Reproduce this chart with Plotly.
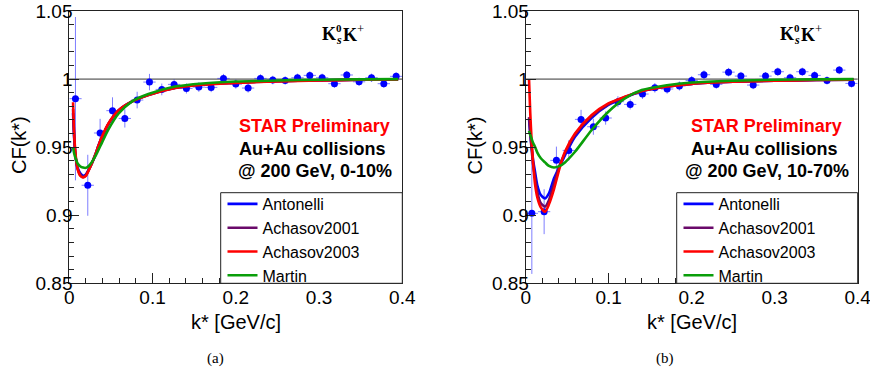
import plotly.graph_objects as go

# ---------------- data ----------------
k_bins = [0.0074, 0.0222, 0.0370, 0.0519, 0.0667, 0.0815, 0.0963, 0.1111, 0.1259,
          0.1407, 0.1556, 0.1704, 0.1852, 0.2000, 0.2148, 0.2296, 0.2444, 0.2593,
          0.2741, 0.2889, 0.3037, 0.3185, 0.3333, 0.3481, 0.3630, 0.3778, 0.3926]
k_halfwidth = 0.0074

cf_central = [0.9856, 0.922, 0.9604, 0.9768, 0.9711, 0.9846, 0.9978, 0.9924, 0.9961,
              0.9931, 0.9941, 0.9939, 1.0005, 0.9963, 0.9934, 1.0005, 0.9993, 0.999,
              1.001, 1.0027, 1.001, 0.9966, 1.003, 0.998, 1.001, 0.9966, 1.002]
err_central = [0.06, 0.0224, 0.0104, 0.0098, 0.0067, 0.0061, 0.006, 0.0043, 0.0037,
               0.0037, 0.0035, 0.0035, 0.0033, 0.0033, 0.0033, 0.0031, 0.0031, 0.0031,
               0.003, 0.003, 0.003, 0.003, 0.003, 0.003, 0.003, 0.003, 0.003]

cf_periph = [0.9014, 0.9026, 0.9403, 0.9476, 0.9704, 0.965, 0.9714, 0.9834, 0.9814,
             0.989, 0.9936, 0.9927, 0.9949, 0.999, 1.0032, 0.9961, 1.0051, 1.0022,
             0.9956, 1.0022, 1.0054, 1.001, 1.0054, 1.0027, 0.999, 1.0066, 0.9968]
err_periph = [0.0445, 0.0165, 0.0101, 0.0075, 0.007, 0.0059, 0.0049, 0.004, 0.0037,
              0.0036, 0.0035, 0.0034, 0.0033, 0.0033, 0.0032, 0.0032, 0.0031, 0.0031,
              0.003, 0.003, 0.003, 0.003, 0.003, 0.003, 0.003, 0.003, 0.003]

models = ["Antonelli", "Achasov2001", "Achasov2003", "Martin"]
model_colors = ["#0000ff", "#6a0a6a", "#ff0000", "#0a9e0a"]

# model curves, 0-10 %
k_fit_central = [0.0045, 0.006, 0.008, 0.010, 0.013, 0.0165, 0.020, 0.023, 0.027, 0.031,
                 0.035, 0.039, 0.047, 0.059, 0.075, 0.095, 0.127, 0.16, 0.20, 0.25,
                 0.30, 0.35, 0.395]
antonelli_central = [0.975, 0.955, 0.941, 0.935, 0.931, 0.929, 0.930, 0.933, 0.938, 0.944,
                     0.951, 0.957, 0.967, 0.9768, 0.9834, 0.9884, 0.9936, 0.996, 0.9974,
                     0.9985, 0.9991, 0.9995, 0.9998]
achasov2001_central = [0.978, 0.956, 0.941, 0.934, 0.930, 0.928, 0.9295, 0.933, 0.938, 0.944,
                       0.951, 0.957, 0.967, 0.9769, 0.9834, 0.9883, 0.9935, 0.9959, 0.9973,
                       0.9984, 0.999, 0.9995, 0.9998]
achasov2003_central = [0.983, 0.958, 0.942, 0.934, 0.929, 0.9278, 0.929, 0.9325, 0.938, 0.944,
                       0.951, 0.9575, 0.9675, 0.977, 0.9834, 0.9883, 0.9935, 0.9958, 0.9972,
                       0.9983, 0.999, 0.9995, 0.9998]
martin_central = [0.950, 0.945, 0.941, 0.938, 0.936, 0.935, 0.9348, 0.936, 0.939, 0.943,
                  0.948, 0.953, 0.963, 0.9745, 0.9835, 0.989, 0.9945, 0.9968, 0.9982,
                  0.999, 0.9995, 0.9998, 1.0]

# model curves, 10-70 %
k_fit_periph = [0.004, 0.0055, 0.0072, 0.009, 0.0112, 0.014, 0.018, 0.0233, 0.028, 0.034,
                0.041, 0.0473, 0.0594, 0.0795, 0.0996, 0.1196, 0.1398, 0.17, 0.20, 0.25,
                0.30, 0.35, 0.395]
antonelli_periph = [0.971, 0.960, 0.950, 0.940, 0.932, 0.922, 0.915, 0.9124, 0.916, 0.927,
                    0.936, 0.944, 0.9576, 0.9716, 0.981, 0.9865, 0.991, 0.9945, 0.9965,
                    0.998, 0.9988, 0.9993, 0.9996]
achasov2001_periph = [0.972, 0.960, 0.948, 0.937, 0.928, 0.917, 0.909, 0.9063, 0.911, 0.923,
                      0.937, 0.9455, 0.959, 0.9726, 0.9815, 0.9868, 0.9911, 0.9945, 0.9965,
                      0.998, 0.9988, 0.9993, 0.9996]
achasov2003_periph = [1.000, 0.975, 0.954, 0.938, 0.923, 0.913, 0.906, 0.9026, 0.908, 0.919,
                      0.935, 0.9466, 0.960, 0.9736, 0.9821, 0.987, 0.9912, 0.9945, 0.9965,
                      0.998, 0.9988, 0.9993, 0.9996]
martin_periph = [0.962, 0.959, 0.956, 0.953, 0.9503, 0.946, 0.942, 0.9388, 0.9362, 0.935,
                 0.9362, 0.9388, 0.9466, 0.9626, 0.976, 0.9858, 0.9919, 0.9955, 0.9975,
                 0.9988, 0.9995, 0.9998, 1.0]

x_ticks = [0, 0.1, 0.2, 0.3, 0.4]
x_ticktext = ["0", "0.1", "0.2", "0.3", "0.4"]
y_ticks = [0.85, 0.9, 0.95, 1.0, 1.05]
y_ticktext = ["0.85", "0.9", "0.95", "1", "1.05"]

panels = [
    dict(xa="x", ya="y", legend="legend", cf=cf_central, err=err_central,
         kfit=k_fit_central,
         curves=[antonelli_central, achasov2001_central, achasov2003_central, martin_central],
         label="@ 200 GeV, 0-10%", caption="(a)"),
    dict(xa="x2", ya="y2", legend="legend2", cf=cf_periph, err=err_periph,
         kfit=k_fit_periph,
         curves=[antonelli_periph, achasov2001_periph, achasov2003_periph, martin_periph],
         label="@ 200 GeV, 10-70%", caption="(b)"),
]

# ---------------- figure ----------------
W, H = 870, 377
SANS = "Liberation Sans, Arial, Helvetica, sans-serif"
SERIF = "Liberation Serif, Times New Roman, serif"

fig = go.Figure()

for p in panels:
    fig.add_trace(go.Scatter(
        x=k_bins, y=p["cf"], mode="markers", xaxis=p["xa"], yaxis=p["ya"],
        marker=dict(color="#0000ff", size=7),
        error_y=dict(type="data", array=p["err"], color="rgba(40,40,255,0.6)",
                     thickness=1, width=0),
        error_x=dict(type="constant", value=k_halfwidth, color="rgba(40,40,255,0.6)",
                     thickness=1, width=0),
        showlegend=False, hoverinfo="x+y"))
    for name, color, vals in zip(models, model_colors, p["curves"]):
        fig.add_trace(go.Scatter(
            x=p["kfit"], y=vals, mode="lines", name=name, xaxis=p["xa"], yaxis=p["ya"],
            line=dict(color=color, width=2.6, shape="spline", smoothing=0.7),
            legend=p["legend"]))

# pixel -> paper helpers
def px(x):
    return x / W

def py(y):
    return 1 - y / H

x_domains = [[px(69.3), px(402.3)], [px(525.7), px(857.7)]]
y_domain = [py(283.3), py(11)]

axis_common = dict(showgrid=False, zeroline=False, showline=True, linecolor="#222",
                   linewidth=1, mirror=True, ticks="inside", tickcolor="#222",
                   ticklen=10, tickwidth=1, automargin=False, ticklabeloverflow="allow",
                   tickfont=dict(family=SANS, size=19, color="black"))

shapes = []
for i, (xa, ya) in enumerate([("xaxis", "yaxis"), ("xaxis2", "yaxis2")]):
    xanchor = "y" if i == 0 else "y2"
    yanchor = "x" if i == 0 else "x2"
    fig.update_layout(**{
        xa: dict(axis_common, domain=x_domains[i], anchor=xanchor, range=[0, 0.4],
                 tickvals=x_ticks, ticktext=x_ticktext, ticklabelstandoff=-3,
                 minor=dict(ticks="inside", ticklen=5, dtick=0.02, tick0=0,
                            tickcolor="#222", tickwidth=1)),
        ya: dict(axis_common, domain=y_domain, anchor=yanchor, range=[0.85, 1.05],
                 tickvals=y_ticks, ticktext=y_ticktext, ticklabelstandoff=-8,
                 minor=dict(ticks="inside", ticklen=5, dtick=0.01, tick0=0.85,
                            tickcolor="#222", tickwidth=1)),
    })
    # reference line at CF = 1
    shapes.append(dict(type="line", xref=("x" if i == 0 else "x2") + " domain",
                       yref="y" if i == 0 else "y2", x0=0, x1=1, y0=1, y1=1,
                       line=dict(color="#333", width=1), layer="below"))
    # legend frame
    shapes.append(dict(type="rect", xref="paper", yref="paper",
                       x0=px(220.7 + (456.0 if i == 1 else 0)), x1=x_domains[i][1],
                       y0=y_domain[0], y1=py(192.7),
                       line=dict(color="#222", width=1), fillcolor="white",
                       layer="above"))

legend_common = dict(bgcolor="rgba(0,0,0,0)", borderwidth=0,
                     font=dict(family=SANS, size=16, color="black"),
                     xanchor="left", yanchor="top", y=py(187),
                     tracegroupgap=0, itemwidth=30)
fig.update_layout(
    width=W, height=H, margin=dict(l=0, r=0, t=0, b=0, autoexpand=False),
    paper_bgcolor="white", plot_bgcolor="white", shapes=shapes,
    legend=dict(legend_common, x=px(222.5)),
    legend2=dict(legend_common, x=px(678.5)),
)


def note(text, x, y, size, family=SANS, color="black", xanchor="center", angle=0):
    return dict(text=text, x=px(x), y=py(y), xref="paper", yref="paper",
                xanchor=xanchor, yanchor="middle", showarrow=False, textangle=angle,
                font=dict(family=family, size=size, color=color))


annotations = []
offsets = [0, 456.4]
label_centers = [(314, 312, 315), (766, 764, 766.5)]
for i, p in enumerate(panels):
    dx = offsets[i]
    # axis titles
    annotations.append(note("CF(k*)", 19 + dx, 145, 20, angle=-90))
    annotations.append(note("k* [GeV/c]", 236 + dx, 322, 20))
    # labels
    c1, c2, c3 = label_centers[i]
    annotations.append(note("<b>STAR Preliminary</b>", c1, 126, 18, color="#ff0000"))
    annotations.append(note("<b>Au+Au collisions</b>", c2, 149, 18))
    annotations.append(note("<b>" + p["label"] + "</b>", c3, 171, 18))
    # K0s K+ label
    kx = 321.7 + dx + (2 if i == 1 else 0)
    annotations.append(note("<b>K</b>", kx - 2, 34, 18, family=SERIF, xanchor="left"))
    annotations.append(note("<b>0</b>", kx + 17, 28, 11, family=SERIF))
    annotations.append(note("<b><i>s</i></b>", kx + 17, 40, 12, family=SERIF))
    annotations.append(note("<b>K</b><sup>+</sup>", kx + 19, 33, 18, family=SERIF,
                            xanchor="left"))
    # caption
    annotations.append(note(p["caption"], 215 + (450 if i == 1 else 0), 358, 15,
                            family=SERIF))

fig.update_layout(annotations=annotations)

fig.write_html("out.html", config={"displayModeBar": False},
               post_script="document.body.style.margin='0';document.body.style.padding='0';")
